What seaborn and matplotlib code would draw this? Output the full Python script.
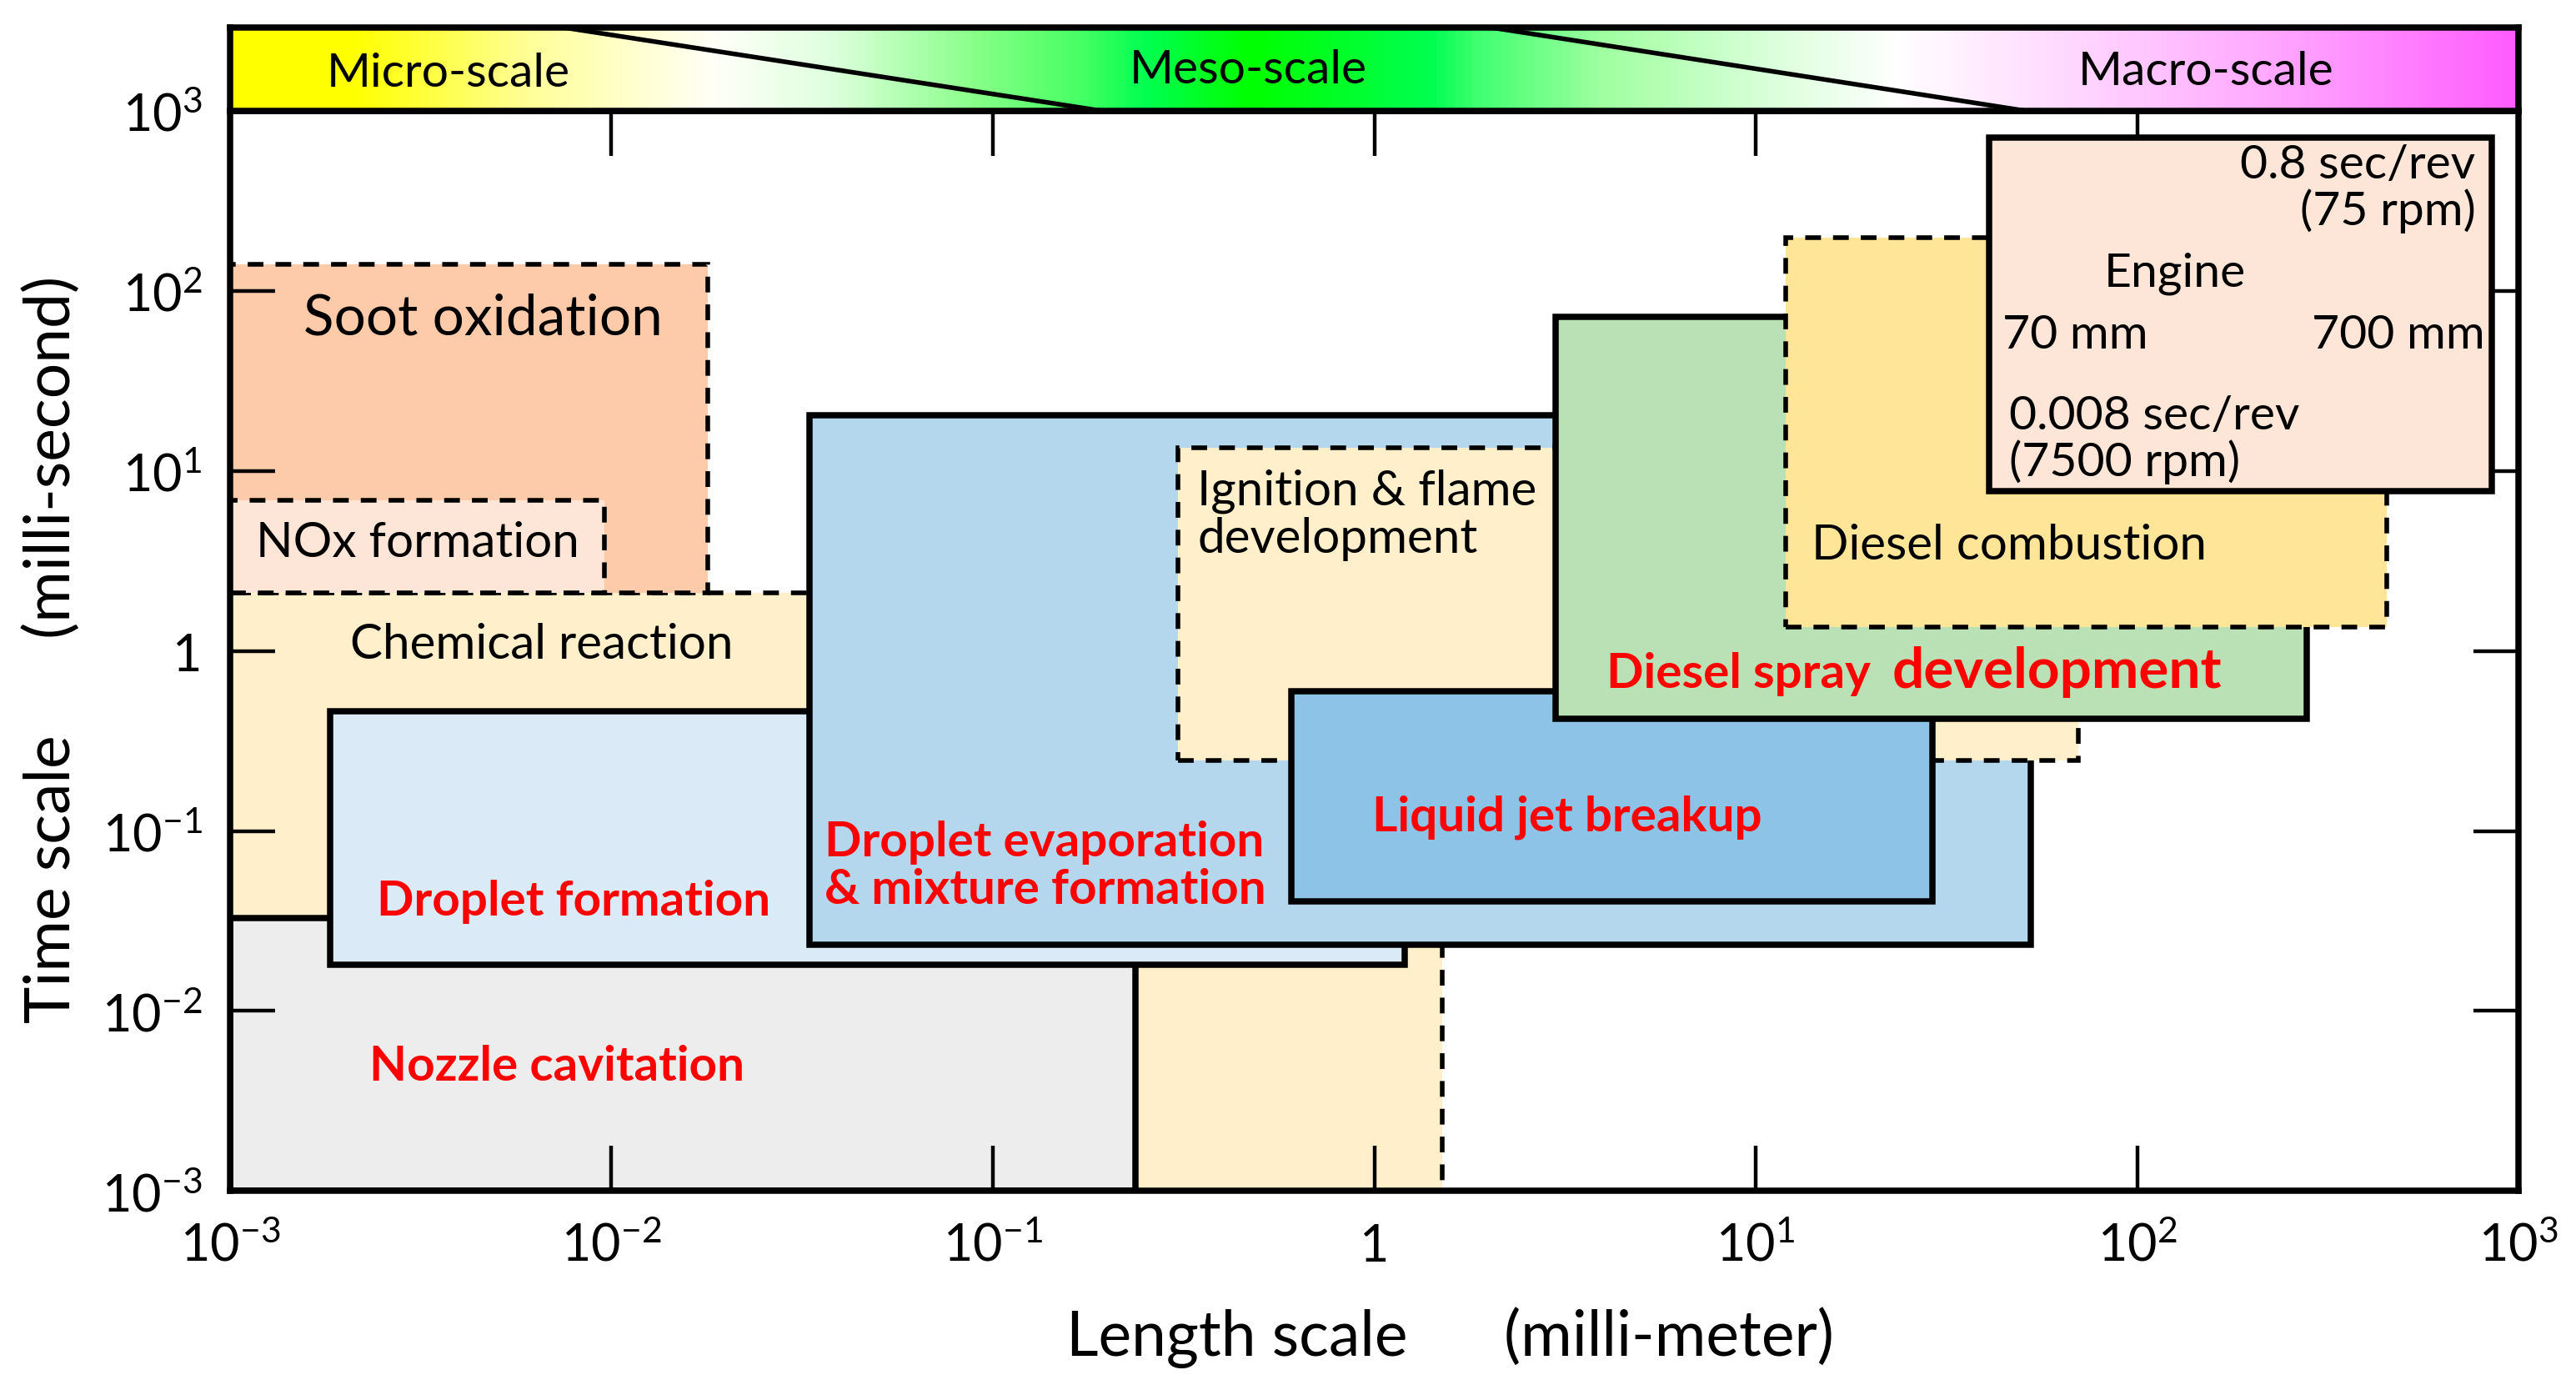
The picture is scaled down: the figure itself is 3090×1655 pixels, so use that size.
import numpy as np
import matplotlib
matplotlib.use("Agg")
import matplotlib.pyplot as plt
import seaborn as sns
from matplotlib.patches import Rectangle
from matplotlib.colors import LinearSegmentedColormap
from matplotlib.ticker import NullLocator

# ---------------- data ----------------
regions = ["Chemical reaction", "Soot oxidation", "NOx formation", "Nozzle cavitation",
           "Droplet formation", "Droplet evaporation & mixture formation",
           "Ignition & flame development", "Liquid jet breakup",
           "Diesel spray development", "Diesel combustion", "Engine"]
len_lo = [1e-3, 1e-3, 1e-3, 1e-3, 0.00183, 0.033, 0.305, 0.605, 2.99, 12.0, 41.0]      # mm
len_hi = [1.51, 0.0179, 0.0096, 0.236, 1.2, 52.5, 70.0, 29.0, 278.0, 452.0, 851.0]     # mm
time_lo = [1e-3, 2.1, 2.1, 1e-3, 0.018, 0.0234, 0.247, 0.0405, 0.418, 1.36, 7.76]      # ms
time_hi = [2.1, 141.0, 6.85, 0.033, 0.464, 20.4, 13.4, 0.6, 72.0, 198.0, 714.0]        # ms

decades = [-3, -2, -1, 0, 1, 2, 3]
tick_labels = [r"$\mathregular{10^{-3}}$", r"$\mathregular{10^{-2}}$", r"$\mathregular{10^{-1}}$", "1",
               r"$\mathregular{10^{1}}$", r"$\mathregular{10^{2}}$", r"$\mathregular{10^{3}}$"]

scale_names = ["Micro-scale", "Meso-scale", "Macro-scale"]
boundary_top = [0.0074, 2.0]      # mm, where scale boundaries meet top of band
boundary_bottom = [0.194, 51.4]   # mm, where they meet bottom of band

engine_notes = ["0.8 sec/rev\n(75 rpm)", "Engine", "70 mm", "700 mm", "0.008 sec/rev\n(7500 rpm)"]

# ---------------- style ----------------
sns.set_theme(style="ticks")
plt.rcParams["font.family"] = ["Lato", "DejaVu Sans"]
plt.rcParams["mathtext.fontset"] = "custom"
plt.rcParams["mathtext.rm"] = "Lato"
plt.rcParams["mathtext.it"] = "Lato:italic"
plt.rcParams["mathtext.bf"] = "Lato:bold"
for k in ["text.color", "axes.labelcolor", "xtick.color", "ytick.color", "axes.edgecolor"]:
    plt.rcParams[k] = "black"

fills = ["#FFF0CB", "#FDCBAA", "#FDE5D8", "#EDEDED", "#DAEBF7", "#B4D7EE",
         "#FFF0CB", "#8DC3E6", "#BAE0B5", "#FFE597", "#FDE5D8"]
dashed = [True, True, True, False, False, False, True, False, False, True, False]

fig = plt.figure(figsize=(15.45, 8.28), dpi=200)
ax = fig.add_axes([0.0893, 0.1369, 0.8884, 0.7821])
ax.set_xscale("log")
ax.set_yscale("log")
ax.set_xlim(1e-3, 1e3)
ax.set_ylim(1e-3, 1e3)
ax.set_axisbelow(False)

for i, name in enumerate(regions):
    z = 2.6 if name == "Engine" else 1
    if dashed[i]:
        ls, lw = (0, (3.4, 2.6)), 2.0
    else:
        ls, lw = "solid", 2.7
    ax.add_patch(Rectangle((len_lo[i], time_lo[i]), len_hi[i] - len_lo[i], time_hi[i] - time_lo[i],
                           facecolor=fills[i], edgecolor="black", linewidth=lw, linestyle=ls,
                           joinstyle="miter", zorder=z))

# region labels
black_kw = dict(color="black", fontsize=21, va="center", zorder=3)
red_kw = dict(color="#FF0000", fontsize=21, fontweight="bold", va="center", zorder=3)
ax.text(0.0046, 70.6, "Soot oxidation", ha="center", color="black", fontsize=24.3, va="center")
ax.text(0.00117, 4.0, "NOx formation", ha="left", **black_kw)
ax.text(0.00206, 1.086, "Chemical reaction", ha="left", **black_kw)
ax.text(0.00242, 0.0408, "Droplet formation", ha="left", **red_kw)
ax.text(0.00232, 0.00494, "Nozzle cavitation", ha="left", **red_kw)
ax.text(0.0361, 0.0643, "Droplet evaporation\n& mixture formation", ha="left", linespacing=1.1, **red_kw)
ax.text(0.344, 5.73, "Ignition & flame\ndevelopment", ha="left", linespacing=1.1, **black_kw)
ax.text(0.989, 0.1197, "Liquid jet breakup", ha="left", **red_kw)
ax.text(4.06, 0.627, "Diesel spray", ha="left", va="baseline", color="#FF0000",
        fontsize=21, fontweight="bold", zorder=3)
ax.text(22.8, 0.627, "development", ha="left", va="baseline", color="#FF0000",
        fontsize=24.3, fontweight="bold", zorder=3)
ax.text(14.0, 3.88, "Diesel combustion", ha="left", **black_kw)

eng_kw = dict(color="black", fontsize=20.5, va="center", zorder=4, linespacing=1.05)
ax.text(771, 372, engine_notes[0], ha="right", multialignment="right", **eng_kw)
ax.text(125.4, 126, engine_notes[1], ha="center", **eng_kw)
ax.text(44.4, 57.3, engine_notes[2], ha="left", **eng_kw)
ax.text(815, 57.3, engine_notes[3], ha="right", **eng_kw)
ax.text(46.1, 15.07, engine_notes[4], ha="left", **eng_kw)

# axes / ticks
ticks = 10.0 ** np.array(decades)
ax.set_xticks(ticks)
ax.set_xticklabels(tick_labels)
ax.set_yticks(ticks)
ax.set_yticklabels(tick_labels)
ax.xaxis.set_minor_locator(NullLocator())
ax.yaxis.set_minor_locator(NullLocator())
ax.tick_params(which="major", direction="in", length=19.5, width=1.6, top=True, right=True,
               bottom=True, left=True, labeltop=False, labelright=False, labelsize=22)
ax.tick_params(axis="x", pad=30)
ax.tick_params(axis="y", pad=12)
plt.setp(ax.get_xticklabels(), va="baseline")
for s in ax.spines.values():
    s.set_linewidth(2.7)
    s.set_color("black")
    s.set_zorder(2.7)

ax.set_xlabel("Length scale      (milli-meter)", fontsize=27)
ax.set_ylabel("Time scale      (milli-second)", fontsize=27)
ax.xaxis.label.set_va("baseline")
ax.yaxis.label.set_va("baseline")
ax.xaxis.set_label_coords(0.533, -0.152)
ax.yaxis.set_label_coords(-0.070, 0.502)

# ---------------- scale band ----------------
bax = fig.add_axes([0.0893, 0.919, 0.8884, 0.0607])
bax.set_autoscale_on(False)
stops = [(0.0, "#FFFF00"), (0.052, "#FFFF00"), (0.13, "#FFFF9A"), (0.21, "#FFFFF8"),
         (0.26, "#E0FFE0"), (0.325, "#88FF88"), (0.37, "#48FF64"), (0.40, "#00FF50"),
         (0.445, "#00FF00"), (0.525, "#00FF50"), (0.545, "#40FF70"), (0.60, "#A0FFA0"),
         (0.665, "#D4FFD4"), (0.73, "#FFFFFF"), (0.805, "#FFD8FF"), (0.907, "#FFA0FF"),
         (1.0, "#FF5CFF")]
cmap = LinearSegmentedColormap.from_list("scales", stops)
grad = cmap(np.linspace(0, 1, 1400))[None, :, :3]
bax.imshow(grad, extent=(0, 1, 0, 1), transform=bax.transAxes, aspect="auto",
           interpolation="bilinear", zorder=0)
bax.set_xscale("log")
bax.set_xlim(1e-3, 1e3)
bax.set_ylim(0, 1)
for t, b in zip(boundary_top, boundary_bottom):
    bax.plot([t, b], [1, 0], color="black", lw=2.0, solid_capstyle="butt", zorder=2)
band_x = [0.00374, 0.468, 151.7]
band_y = [0.45, 0.49, 0.47]
for name, x, y in zip(scale_names, band_x, band_y):
    bax.text(x, y, name, ha="center", va="center", fontsize=20.5, color="black", zorder=3)
bax.set_xticks([])
bax.set_yticks([])
bax.xaxis.set_minor_locator(NullLocator())
bax.tick_params(which="both", bottom=False, top=False, left=False, right=False,
                labelbottom=False, labelleft=False)
for s in bax.spines.values():
    s.set_linewidth(2.7)
    s.set_color("black")

fig.savefig("out.png", dpi=200, facecolor="white")
